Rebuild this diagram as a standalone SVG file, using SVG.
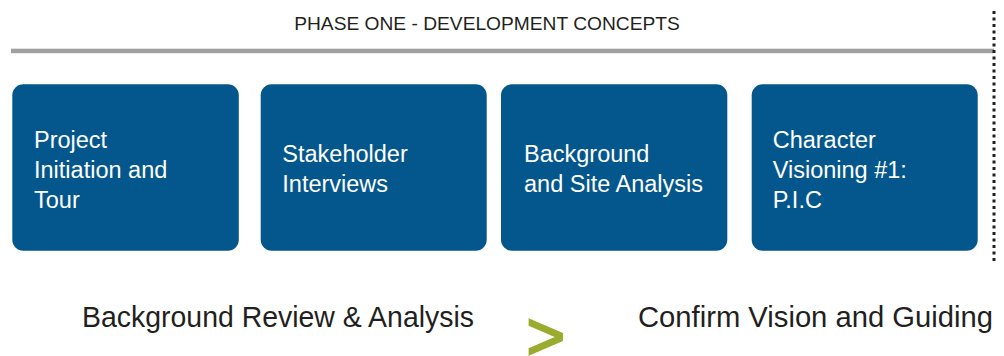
<svg xmlns="http://www.w3.org/2000/svg" width="1004" height="356" viewBox="0 0 1004 356">
  <style>
    .box { fill: #04578c; }
    .bt { font-family: "Liberation Sans", Arial, sans-serif; font-size: 23.5px; fill: #ffffff; }
    .hd { font-family: "Liberation Sans", Arial, sans-serif; font-size: 19.2px; fill: #231f20; }
    .lb { font-family: "Liberation Sans", Arial, sans-serif; font-size: 28.6px; fill: #231f20; }
  </style>
  <rect x="0" y="0" width="1004" height="356" fill="#ffffff"/>
  <text class="hd" x="487" y="30" text-anchor="middle">PHASE ONE - DEVELOPMENT CONCEPTS</text>
  <g id="connectors">
    <rect x="11" y="48.7" width="983" height="4.5" fill="#9fa0a2"/>
    <line x1="994" y1="11" x2="994" y2="264" stroke="#231f20" stroke-width="3" stroke-dasharray="3 3.5"/>
  </g>
  <g id="node1">
    <rect class="box" x="12.3" y="84.3" width="226.5" height="166.5" rx="11"/>
    <text class="bt" x="34" y="148">Project</text>
    <text class="bt" x="34" y="178.3">Initiation and</text>
    <text class="bt" x="34" y="208.3">Tour</text>
  </g>
  <g id="node2">
    <rect class="box" x="260.7" y="84.3" width="226" height="166.5" rx="11"/>
    <text class="bt" x="282.3" y="162">Stakeholder</text>
    <text class="bt" x="282.3" y="192.3">Interviews</text>
  </g>
  <g id="node3">
    <rect class="box" x="501" y="84.3" width="226.3" height="166.5" rx="11"/>
    <text class="bt" x="524" y="162">Background</text>
    <text class="bt" x="524" y="192.3">and Site Analysis</text>
  </g>
  <g id="node4">
    <rect class="box" x="751.7" y="84.3" width="226" height="166.5" rx="11"/>
    <text class="bt" x="772.7" y="148">Character</text>
    <text class="bt" x="772.7" y="178">Visioning #1:</text>
    <text class="bt" x="772.7" y="208.3">P.I.C</text>
  </g>
  <text class="lb" x="82" y="327" textLength="392" lengthAdjust="spacingAndGlyphs">Background Review &amp; Analysis</text>
  <text x="526.5" y="359" font-family="'Liberation Sans', Arial, sans-serif" font-size="66" fill="#9aac2e" stroke="#9aac2e" stroke-width="2.2">&gt;</text>
  <text class="lb" x="638" y="327" textLength="355" lengthAdjust="spacingAndGlyphs">Confirm Vision and Guiding</text>
</svg>
